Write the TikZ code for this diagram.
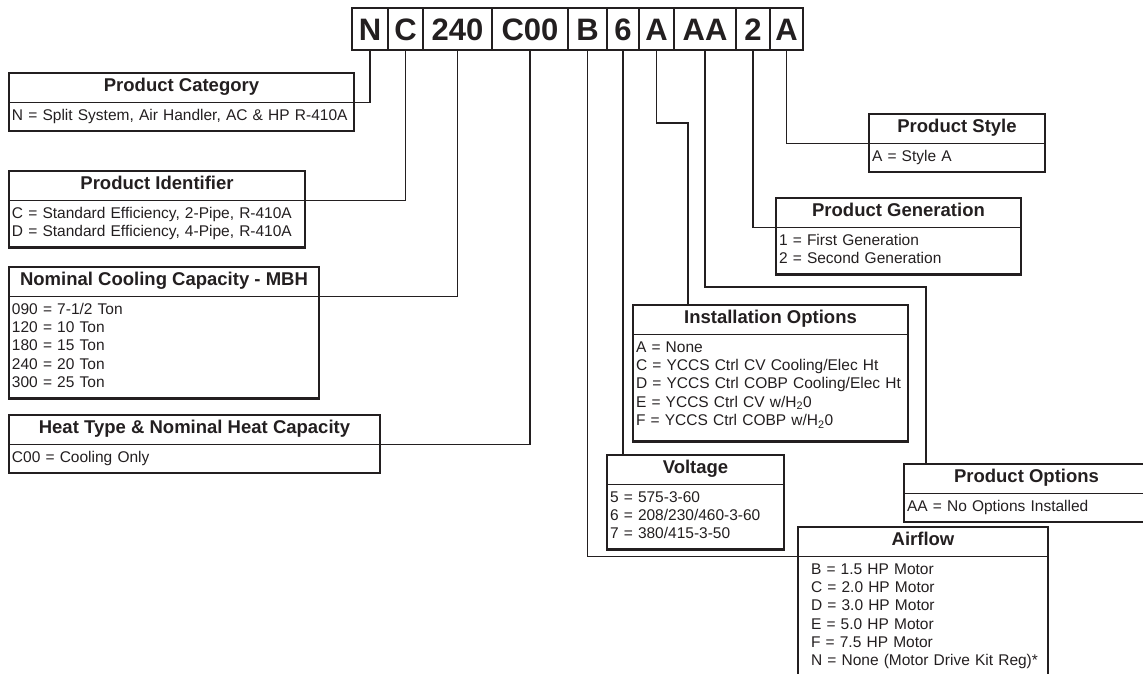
\documentclass[tikz,border=0pt]{standalone}
\usepackage{fontspec}
\setmainfont{Liberation Sans}
\usetikzlibrary{positioning,shapes.multipart}
\definecolor{ink}{RGB}{35,31,32}
\newcommand{\titlefont}{\fontsize{18.5}{19}\selectfont\bfseries}
\newcommand{\bodyfont}{\fontsize{15.5}{18.3}\selectfont}
\newcommand{\codefont}{\fontsize{31}{32}\selectfont\bfseries}
\newcommand{\boxtitle}[1]{\hbox to\hsize{\hss\titlefont\strut #1\hss}}

\begin{document}
\begin{tikzpicture}[x=1pt,y=-1pt,
  codecell/.style={draw=ink,line width=1.4pt,minimum height=42pt,inner sep=0pt,outer sep=0pt,text height=22pt,text depth=0pt,text=ink,font=\codefont},
  keybox/.style={draw=ink,line width=2.8pt,rectangle split,rectangle split parts=2,rectangle split draw splits=false,anchor=north west,inner xsep=3pt,inner ysep=3.75pt,outer sep=0pt,align=left,text=ink,font=\bodyfont},
  splitline/.style={ink,line width=1.3pt},
  leader/.style={ink,line width=1.3pt}]
\useasboundingbox (0,0) rectangle (1143,673);

\node[codecell,minimum width=36pt,anchor=north west] (kcat) at (352,8) {N};
\node[codecell,minimum width=35pt,right=0pt of kcat] (kid) {C};
\node[codecell,minimum width=69pt,right=0pt of kid] (kcap) {240};
\node[codecell,minimum width=76pt,right=0pt of kcap] (kheat) {C00};
\node[codecell,minimum width=39pt,right=0pt of kheat] (kair) {B};
\node[codecell,minimum width=32pt,right=0pt of kair] (kvolt) {6};
\node[codecell,minimum width=35pt,right=0pt of kvolt] (kinst) {A};
\node[codecell,minimum width=62pt,right=0pt of kinst] (kopt) {AA};
\node[codecell,minimum width=34pt,right=0pt of kopt] (kgen) {2};
\node[codecell,minimum width=33pt,right=0pt of kgen] (kstyle) {A};
\draw[ink,line width=2.8pt] (kcat.north west) rectangle (kstyle.south east);

\node[keybox,text width=339pt] (cat) at (9,73)
  {\boxtitle{Product Category}
   \nodepart{two}\bodyfont\strut N = Split System, Air Handler, AC \& HP R-410A};
\node[keybox,text width=290pt] (ident) at (9,171)
  {\boxtitle{Product Identifier}
   \nodepart{two}\bodyfont\strut C = Standard Efficiency, 2-Pipe, R-410A\\
   \strut D = Standard Efficiency, 4-Pipe, R-410A};
\node[keybox,text width=304pt] (cap) at (9,267)
  {\boxtitle{Nominal Cooling Capacity - MBH}
   \nodepart{two}\bodyfont\strut 090 = 7-1/2 Ton\\ \strut 120 = 10 Ton\\
   \strut 180 = 15 Ton\\ \strut 240 = 20 Ton\\ \strut 300 = 25 Ton};
\node[keybox,text width=365pt] (heat) at (9,415)
  {\boxtitle{Heat Type \& Nominal Heat Capacity}
   \nodepart{two}\bodyfont\strut C00 = Cooling Only};

\node[keybox,text width=170pt] (style) at (869,114)
  {\boxtitle{Product Style}
   \nodepart{two}\bodyfont\strut A = Style A};
\node[keybox,text width=239pt] (gen) at (776,198)
  {\boxtitle{Product Generation}
   \nodepart{two}\bodyfont\strut 1 = First Generation\\ \strut 2 = Second Generation};
\node[keybox,text width=269pt] (inst) at (633,305)
  {\boxtitle{Installation Options}
   \nodepart{two}\bodyfont\strut A = None\\
   \strut C = YCCS Ctrl CV Cooling/Elec Ht\\
   \strut D = YCCS Ctrl COBP Cooling/Elec Ht\\
   \strut E = YCCS Ctrl CV w/H\textsubscript{2}0\\
   \strut F = YCCS Ctrl COBP w/H\textsubscript{2}0\rule[-11pt]{0pt}{1pt}};
\node[keybox,text width=171pt] (volt) at (607,455)
  {\boxtitle{Voltage}
   \nodepart{two}\bodyfont\strut 5 = 575-3-60\\ \strut 6 = 208/230/460-3-60\\
   \strut 7 = 380/415-3-50};
\node[keybox,text width=239pt] (opt) at (904,464)
  {\boxtitle{Product Options}
   \nodepart{two}\bodyfont\strut AA = No Options Installed};
\node[keybox,text width=244pt] (air) at (798,527)
  {\boxtitle{Airflow}
   \nodepart{two}\bodyfont\hspace*{10pt}\strut B = 1.5 HP Motor\\
   \hspace*{10pt}\strut C = 2.0 HP Motor\\ \hspace*{10pt}\strut D = 3.0 HP Motor\\
   \hspace*{10pt}\strut E = 5.0 HP Motor\\ \hspace*{10pt}\strut F = 7.5 HP Motor\\
   \hspace*{10pt}\strut N = None (Motor Drive Kit Reg)*};

\draw[splitline] (cat.text split west) -- (cat.text split east);
\draw[splitline] (ident.text split west) -- (ident.text split east);
\draw[splitline] (cap.text split west) -- (cap.text split east);
\draw[splitline] (heat.text split west) -- (heat.text split east);
\draw[splitline] (style.text split west) -- (style.text split east);
\draw[splitline] (gen.text split west) -- (gen.text split east);
\draw[splitline] (inst.text split west) -- (inst.text split east);
\draw[splitline] (volt.text split west) -- (volt.text split east);
\draw[splitline] (opt.text split west) -- (opt.text split east);
\draw[splitline] (air.text split west) -- (air.text split east);

\coordinate (instbend) at (688,123);
\coordinate (optbend) at (926,287);

\draw[leader] (kcat.south) |- (cat.text split east);
\draw[leader] (kid.south) |- (ident.text split east);
\draw[leader] (kcap.south) |- (cap.text split east);
\draw[leader] (kheat.south) |- (heat.text split east);
\draw[leader] (kair.south) |- (air.text split west);
\draw[leader] (kvolt.south) -- (kvolt.south |- volt.north);
\draw[leader] (kinst.south) |- (instbend) -- (instbend |- inst.north);
\draw[leader] (kopt.south) |- (optbend) -- (optbend |- opt.north);
\draw[leader] (kgen.south) |- (gen.text split west);
\draw[leader] (kstyle.south) |- (style.text split west);

\end{tikzpicture}
\end{document}
